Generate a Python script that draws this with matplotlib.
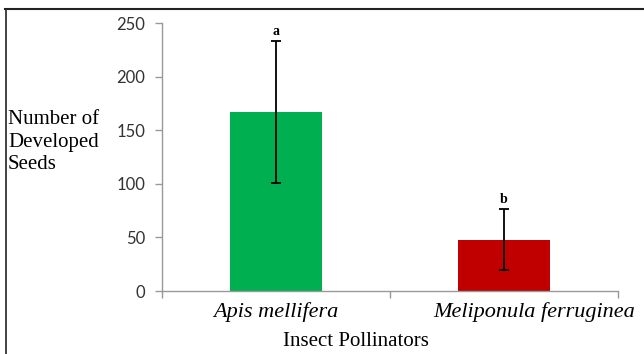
import matplotlib
matplotlib.use("Agg")
import matplotlib.pyplot as plt
from matplotlib.lines import Line2D
import matplotlib.transforms as mtransforms

categories = ["Apis mellifera", "Meliponula ferruginea"]
means = [167, 48]
errors = [66, 28.5]
letters = ["a", "b"]
colors = ["#00B050", "#C00000"]
yticks = [0, 50, 100, 150, 200, 250]

fig = plt.figure(figsize=(6.44, 3.54), dpi=100)
ax = fig.add_axes([162/644, 1-291/354, (618-162)/644, (291-23)/354])

x = list(range(len(categories)))
ax.bar(x, means, width=0.4, color=colors, zorder=2)
ax.errorbar(x, means, yerr=errors, fmt="none", ecolor="black", elinewidth=1.3,
            capsize=3.6, capthick=1.3, zorder=3)
for xi, m, e, l in zip(x, means, errors, letters):
    ax.annotate(l, (xi, m + e), xytext=(0, 2), textcoords="offset points",
                ha="center", va="bottom", fontsize=10, fontweight="bold",
                family="Liberation Serif")

ax.set_xlim(-0.5, len(categories) - 0.5)
ax.set_ylim(0, 250)
ax.set_yticks(yticks)
ax.set_yticklabels([str(t) for t in yticks], family="Lato", fontsize=12, color="#333333")
ax.tick_params(axis="y", length=5, color="#999999", width=1, pad=7)
ax.set_xticks(x)
ax.set_xticklabels(categories, family="Liberation Serif", style="italic", fontsize=16)
ax.tick_params(axis="x", length=0, pad=8)
ax.set_xticks([-0.5, 0.5, 1.5], minor=True)
ax.tick_params(axis="x", which="minor", length=5, color="#999999", width=1)
lbl = ax.get_xticklabels()[1]
lbl.set_transform(lbl.get_transform() + mtransforms.ScaledTranslation(30/100, 0, fig.dpi_scale_trans))

for s in ["top", "right"]:
    ax.spines[s].set_visible(False)
for s in ["left", "bottom"]:
    ax.spines[s].set_color("#999999")
    ax.spines[s].set_linewidth(1)

fig.text(8/644, 1-142/354, "Number of\nDeveloped\nSeeds", ha="left", va="center",
         family="Liberation Serif", fontsize=15, linespacing=1.27)
fig.text(356/644, 1-341/354, "Insect Pollinators", ha="center", va="center",
         family="Liberation Serif", fontsize=15)

fig.add_artist(Line2D([5/644, 1], [1-8.5/354, 1-8.5/354], transform=fig.transFigure,
                      color="#222222", lw=1.5))
fig.add_artist(Line2D([5.5/644, 5.5/644], [0, 1-8.5/354], transform=fig.transFigure,
                      color="#222222", lw=1.2))

fig.savefig("out.png", dpi=100)
